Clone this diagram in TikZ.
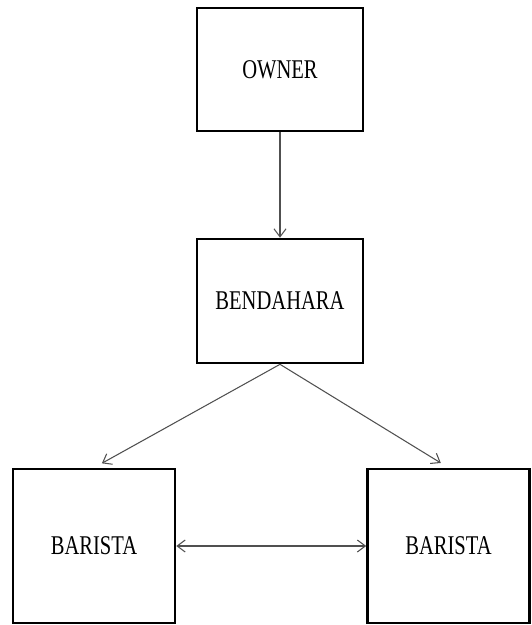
\documentclass[tikz,border=0pt]{standalone}
\usepackage{fontspec}
\setmainfont{Liberation Serif}
\newfontfamily\boxfont[FakeStretch=0.76]{Liberation Serif}
\usepackage{xcolor}
\usepackage{tikz}
\usetikzlibrary{arrows.meta,positioning}
\definecolor{linegray}{HTML}{505050}

\begin{document}
\begin{tikzpicture}[
  font=\boxfont\fontsize{15.4}{18}\selectfont,
  box/.style={draw=black,line width=1.5pt,align=center,inner sep=0pt,
              minimum width=3.32cm,minimum height=2.46cm},
  staff/.style={box,minimum width=3.24cm,minimum height=3.08cm},
  ar/.style={-{Straight Barb[length=1.6mm,width=2.4mm]},linegray,line width=0.6pt}
]
\useasboundingbox (0,0) rectangle (10.62,-12.5);
\node[box]   (owner) at (5.6,-1.39)   {OWNER};
\node[box,minimum height=2.48cm] (bend) at (5.6,-6.02) {BENDAHARA};
\node[staff] (bar1)  at (1.88,-10.92) {BARISTA};
\node[staff] (bar2)  at (8.97,-10.92) {BARISTA};
\draw[ar] (owner) -- (bend);
\draw[ar,shorten >=0.18cm] (bend.south) -- (bar1.north);
\draw[ar,shorten >=0.18cm] (bend.south) -- (bar2.north);
\draw[ar,{Straight Barb[length=1.6mm,width=2.4mm]}-{Straight Barb[length=1.6mm,width=2.4mm]}] (bar1) -- (bar2);
\end{tikzpicture}
\end{document}
